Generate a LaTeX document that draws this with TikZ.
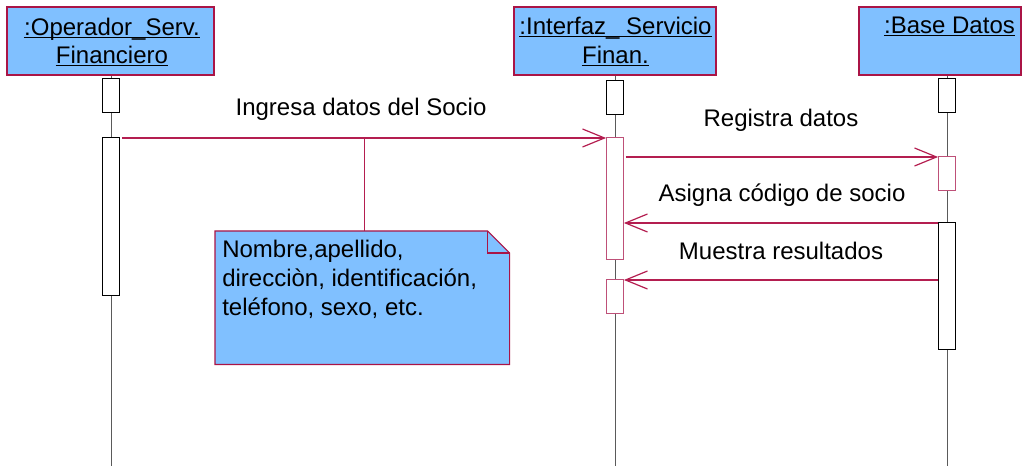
\documentclass[tikz,border=0pt]{standalone}
\usepackage{fontspec}
\setmainfont{Liberation Sans}
\usetikzlibrary{arrows.meta,calc}
\definecolor{hdrfill}{RGB}{128,192,255}
\definecolor{hdrline}{RGB}{170,20,70}
\definecolor{msgcol}{RGB}{180,30,80}
\definecolor{actpink}{RGB}{190,80,120}
\definecolor{lifecol}{RGB}{90,90,90}
\tikzset{
  hdr/.style={draw=hdrline, fill=hdrfill, line width=0.8pt, inner sep=0pt},
  hdrtxt/.style={anchor=base, inner sep=0pt},
  uline/.style={draw=black, line width=0.75pt},
  life/.style={draw=lifecol, line width=0.6pt},
  act/.style={draw=black, fill=white, line width=0.6pt, minimum width=12.75pt, inner sep=0pt, anchor=north},
  actp/.style={act, draw=actpink},
  msg/.style={draw=msgcol, line width=0.9pt, -{Straight Barb[length=16.5pt,width=13.5pt,line width=0.9pt]}},
  msglbl/.style={anchor=base, inner sep=0pt},
  notebox/.style={draw=hdrline, fill=hdrfill, line width=0.8pt},
  notelink/.style={draw=msgcol, line width=0.6pt}
}
\begin{document}
\begin{tikzpicture}[x=0.75pt, y=-0.75pt, font=\fontsize{18}{21.75}\selectfont]
\useasboundingbox (0,0) rectangle (1024,466);

% header boxes
\node[hdr, minimum width=155.25pt, minimum height=51pt] (hOp) at (110.5,41) {};
\node[hdr, minimum width=151.5pt, minimum height=51pt] (hIf) at (615,41) {};
\node[hdr, minimum width=121.5pt, minimum height=51pt] (hBd) at (940,41) {};

% header texts
\node[hdrtxt] (tOp1) at (112,36) {:Operador\_Serv.\ };
\node[hdrtxt] (tOp2) at (112,64) {Financiero};
\node[hdrtxt] (tIf1) at (615.5,35) {:Interfaz\_\ Servicio\ };
\node[hdrtxt] (tIf2) at (615.5,64) {Finan.};
\node[hdrtxt] (tBd1) at (949.5,34) {:Base Datos};
\foreach \t in {tOp1,tOp2,tIf1,tIf2,tBd1}
  \draw[uline] ($(\t.base west)+(0,2)$) -- ($(\t.base east)+(0,2)$);

% lifeline ends
\coordinate (eOp) at (111,466);
\coordinate (eIf) at (615,466);
\coordinate (eBd) at (947,466);
\draw[life] (hOp.south -| eOp) -- (eOp);
\draw[life] (hIf.south -| eIf) -- (eIf);
\draw[life] (hBd.south -| eBd) -- (eBd);

% top small boxes
\node[act, minimum height=25.5pt] (sOp) at (111,78) {};
\node[act, minimum height=25.5pt] (sIf) at (615,80) {};
\node[act, minimum height=25.5pt] (sBd) at (947,78) {};

% activations
\node[act, minimum height=118.5pt] (aOp) at (111,137) {};
\node[actp, minimum height=91.5pt] (aIf1) at (615,137) {};
\node[actp, minimum height=25.5pt] (aIf2) at (615,279) {};
\node[actp, minimum height=25.5pt] (aBd1) at (947,156) {};
\node[act, minimum height=95.25pt] (aBd2) at (947,222) {};

% message levels
\coordinate (y1) at (0,138);
\coordinate (y2) at (0,157);
\coordinate (y3) at (0,223);
\coordinate (y4) at (0,280);

\draw[msg, shorten <=1.5pt] (aOp.east |- y1) -- (aIf1.west |- y1);
\draw[msg, shorten <=1.5pt] (aIf1.east |- y2) -- (aBd1.west |- y2);
\draw[msg] (aBd2.west |- y3) -- (aIf1.east |- y3);
\draw[msg] (aBd2.west |- y4) -- (aIf2.east |- y4);

\node[msglbl] (l1) at (361,116) {Ingresa datos del Socio};
\node[msglbl] (l2) at (781,127) {Registra datos};
\node[msglbl] (l3) at (782,202) {Asigna código de socio};
\node[msglbl] (l4) at (781,260) {Muestra resultados};

% note
\node[minimum width=220.5pt, minimum height=99.75pt, anchor=north west, inner sep=0pt] (note) at (215,231) {};
\coordinate (nc) at (364,138);
\draw[notelink] (nc) -- (note.north -| nc);
\draw[notebox] (note.north west) -- ($(note.north east)+(-22,0)$) -- ($(note.north east)+(0,22)$) -- (note.south east) -- (note.south west) -- cycle;
\draw[notebox, fill=none] ($(note.north east)+(-22,0)$) -- ($(note.north east)+(-22,22)$) -- ($(note.north east)+(0,22)$);
\node[anchor=north west, align=left, inner sep=0pt] (ntext) at (222,240)
  {Nombre,apellido,\\direcciòn, identificación,\\teléfono, sexo, etc.};
\end{tikzpicture}
\end{document}
